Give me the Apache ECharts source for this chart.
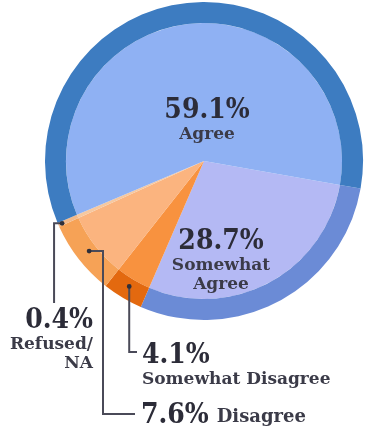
<!DOCTYPE html>
<html><head><meta charset="utf-8">
<script src="https://cdn.jsdelivr.net/npm/echarts@6/dist/echarts.min.js"></script>
<style>html,body{margin:0;padding:0;background:#fff}#c{width:368px;height:438px}</style>
</head><body><div id="c"></div>
<script>
// ---- data ----
const categories = ['Somewhat Agree', 'Somewhat Disagree', 'Disagree', 'Refused/NA', 'Agree'];
const values = [28.7, 4.1, 7.6, 0.4, 59.1];
const nameLines = [['Somewhat', 'Agree'], ['Somewhat Disagree'], ['Disagree'], ['Refused/', 'NA'], ['Agree']];

// ---- styles / layout ----
const innerColors = ['#b4b9f4', '#f8923f', '#fbb47f', '#f6c8a0', '#8fb1f3'];
const ringColors  = ['#6b8bd6', '#e3690f', '#f6a256', '#f2b98a', '#3d7cc1'];
const CX = 204, CY = 161, R_IN = 138, R_OUT = 159, START = -10;
const PFONT = "'DejaVu Serif Condensed','DejaVu Serif',serif";
const NFONT = "'DejaVu Serif',serif";
const lineColor = '#4a4a58';

const total = values.reduce((a, b) => a + b, 0);
function anchor(i, r) {
  let cum = 0;
  for (let k = 0; k < i; k++) cum += values[k];
  const th = (90 - START + (cum + values[i] / 2) / total * 360) * Math.PI / 180;
  return [CX + r * Math.sin(th), CY - r * Math.cos(th)];
}

const labelCfg = {
  'Agree':             { x: 207, y: 97,  align: 'center', va: 'top', inline: false },
  'Somewhat Agree':    { x: 221, y: 228, align: 'center', va: 'top', inline: false },
  'Somewhat Disagree': { x: 142, y: 342, align: 'left',   va: 'top', inline: false, r: 146,
                         line: a => [a, [a[0], 352], [137, 352]] },
  'Disagree':          { x: 141, y: 416, align: 'left',   va: 'middle', inline: true, r: 146,
                         line: a => [a, [103, a[1]], [103, 414], [135, 414]] },
  'Refused/NA':        { x: 93,  y: 307, align: 'right',  va: 'top', inline: false, r: 155,
                         line: a => [a, [a[0] - 8, a[1]], [a[0] - 8, 303]] }
};

function fmt(p) {
  const i = p.dataIndex;
  const cfg = labelCfg[categories[i]];
  const pct = '{p|' + values[i].toFixed(1) + '%}';
  if (cfg.inline) return pct + '{m|' + nameLines[i].join(' ') + '}';
  return pct + '\n' + nameLines[i].map(s => '{n|' + s + '}').join('\n');
}

// callout lines and dots, anchored on the slices computed from the data
const callouts = [];
categories.forEach((c, i) => {
  const cfg = labelCfg[c];
  if (!cfg.line) return;
  const a = anchor(i, cfg.r);
  callouts.push({
    type: 'polyline', silent: true, z: 100,
    shape: { points: cfg.line(a) },
    style: { stroke: lineColor, lineWidth: 2, fill: null }
  });
  callouts.push({
    type: 'circle', silent: true, z: 101,
    shape: { cx: a[0], cy: a[1], r: 2.4 }, style: { fill: '#2f2f3a' }
  });
});

const chart = echarts.init(document.getElementById('c'), null, { renderer: 'canvas' });
const option = {
  animation: false,
  backgroundColor: '#ffffff',
  graphic: callouts,
  series: [
    {
      type: 'pie', silent: true, center: [CX, CY], radius: [0, R_IN],
      startAngle: START, clockwise: true, avoidLabelOverlap: false,
      label: { show: false }, labelLine: { show: false },
      itemStyle: { borderWidth: 0 },
      data: categories.map((c, i) => ({ name: c, value: values[i], itemStyle: { color: innerColors[i] } }))
    },
    {
      type: 'pie', silent: true, center: [CX, CY], radius: [R_IN, R_OUT],
      startAngle: START, clockwise: true, avoidLabelOverlap: false,
      itemStyle: { borderWidth: 0 },
      label: {
        show: true, position: 'outside', formatter: fmt,
        rich: {
          p: { fontFamily: PFONT, fontWeight: 'bold', fontSize: 28, color: '#2c2c38', lineHeight: 28 },
          n: { fontFamily: NFONT, fontWeight: 'bold', fontSize: 17, color: '#3b3b48', lineHeight: 19 },
          m: { fontFamily: NFONT, fontWeight: 'bold', fontSize: 18, color: '#3b3b48', padding: [3, 0, 0, 8] }
        }
      },
      labelLine: { show: false },
      labelLayout: function (p) {
        const cfg = labelCfg[categories[p.dataIndex]];
        return { x: cfg.x, y: cfg.y, align: cfg.align, verticalAlign: cfg.va };
      },
      data: categories.map((c, i) => ({ name: c, value: values[i], itemStyle: { color: ringColors[i] } }))
    }
  ]
};
chart.setOption(option);
</script>
</body></html>
